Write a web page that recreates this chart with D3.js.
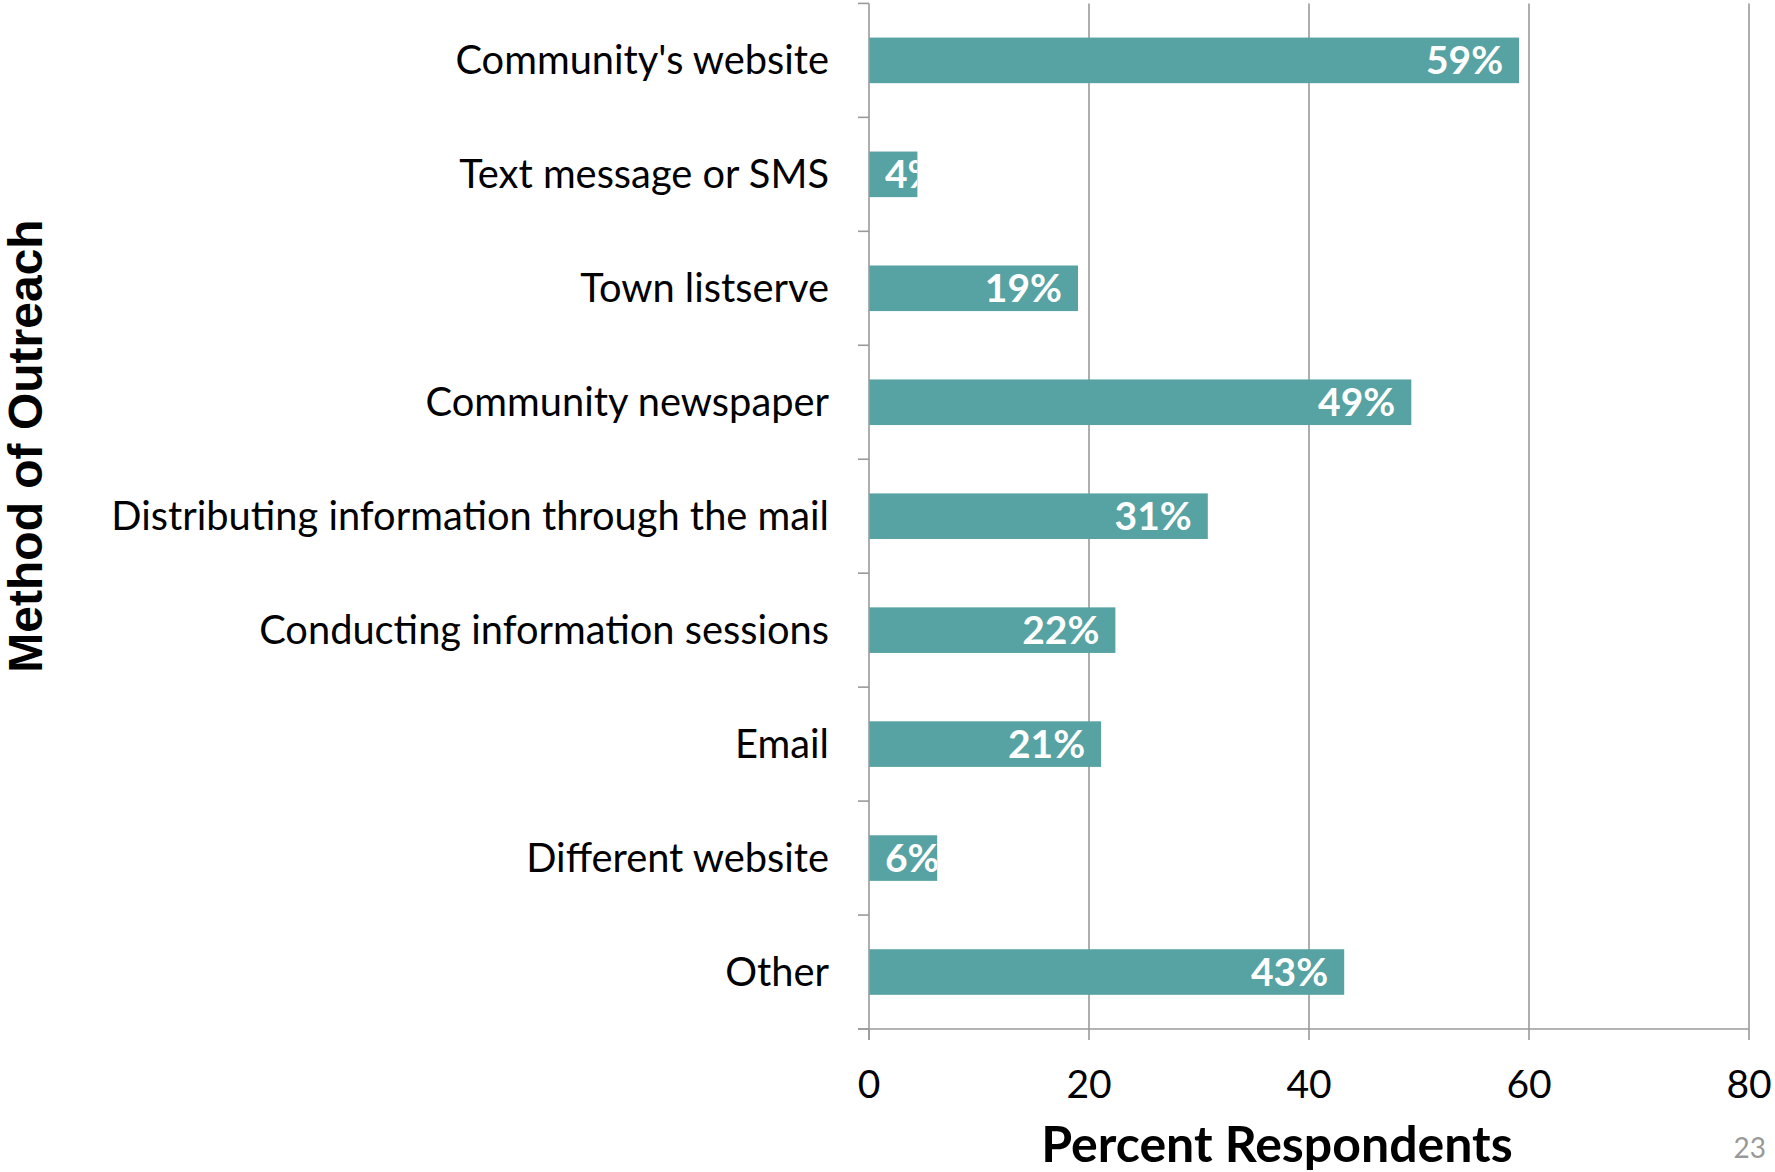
<!DOCTYPE html>
<html>
<head>
<meta charset="utf-8">
<script src="https://cdn.jsdelivr.net/npm/d3@7"></script>
<style>
  html, body { margin: 0; padding: 0; background: #fff; }
  svg { display: block; }
</style>
</head>
<body>
<svg id="chart" width="1775" height="1172"></svg>
<script>
// ---- data ----
const categories = [
  "Community's website",
  "Text message or SMS",
  "Town listserve",
  "Community newspaper",
  "Distributing information through the mail",
  "Conducting information sessions",
  "Email",
  "Different website",
  "Other"
];
const values = [59.1, 4.4, 19.0, 49.3, 30.8, 22.4, 21.1, 6.2, 43.2];
const xTicks = [0, 20, 40, 60, 80];
const xTitle = "Percent Respondents";
const yTitle = "Method of Outreach";
const pageNumber = "23";

(function () {
// ---- layout ----
const svg = d3.select("#chart");
const plotL = 869, plotR = 1749, plotT = 3.4, plotB = 1029;
const barColor = "#57A2A2";
const gridColor = "#9a9a9a";
const font = "Lato, 'Noto Sans', sans-serif";

const x = d3.scaleLinear().domain([0, 80]).range([plotL, plotR]);
const y = d3.scaleBand().domain(categories).range([plotT, plotB])
  .paddingInner(0.6).paddingOuter(0.3);
const boundary = d3.scaleLinear().domain([0, categories.length]).range([plotT, plotB]);

// gridlines
svg.append("g").selectAll("line").data(xTicks.filter(d => d > 0)).join("line")
  .attr("x1", d => x(d)).attr("x2", d => x(d))
  .attr("y1", plotT).attr("y2", plotB)
  .attr("stroke", gridColor).attr("stroke-width", 1.6);

// bars
const defs = svg.append("defs");
categories.forEach((c, i) => {
  defs.append("clipPath").attr("id", "clip" + i).append("rect")
    .attr("x", x(0)).attr("y", y(c))
    .attr("width", x(values[i]) - x(0)).attr("height", y.bandwidth());
});
svg.append("g").selectAll("rect").data(categories).join("rect")
  .attr("x", x(0)).attr("y", d => y(d))
  .attr("width", (d, i) => x(values[i]) - x(0))
  .attr("height", y.bandwidth())
  .attr("fill", barColor);

// bar labels
const pad = 16;
const lbl = svg.append("g").selectAll("text").data(categories).join("text")
  .attr("clip-path", (d, i) => `url(#clip${i})`)
  .attr("y", d => y(d) + y.bandwidth() / 2)
  .attr("dy", "0.36em")
  .attr("fill", "#fff")
  .attr("font-family", font)
  .attr("font-weight", "bold")
  .attr("font-size", 39)
  .text((d, i) => Math.round(values[i]) + "%");
lbl.each(function(d, i) {
  const w = this.getComputedTextLength();
  const bw = x(values[i]) - x(0);
  if (w + 2 * pad <= bw) {
    d3.select(this).attr("x", x(values[i]) - pad).attr("text-anchor", "end");
  } else {
    d3.select(this).attr("x", x(0) + pad).attr("text-anchor", "start");
  }
});

// y axis line and ticks
svg.append("line").attr("x1", plotL).attr("x2", plotL)
  .attr("y1", plotT).attr("y2", plotB + 11)
  .attr("stroke", gridColor).attr("stroke-width", 1.6);
svg.append("g").selectAll("line").data(d3.range(categories.length + 1)).join("line")
  .attr("x1", plotL - 11).attr("x2", plotL)
  .attr("y1", d => boundary(d)).attr("y2", d => boundary(d))
  .attr("stroke", gridColor).attr("stroke-width", 1.6);

// category labels
svg.append("g").selectAll("text").data(categories).join("text")
  .attr("x", plotL - 40)
  .attr("y", d => y(d) + y.bandwidth() / 2)
  .attr("dy", "0.35em")
  .attr("text-anchor", "end")
  .attr("font-family", font)
  .attr("font-size", 39.8)
  .attr("fill", "#000")
  .text(d => d);

// x axis
svg.append("line").attr("x1", plotL - 11).attr("x2", plotR)
  .attr("y1", plotB).attr("y2", plotB)
  .attr("stroke", gridColor).attr("stroke-width", 1.6);
svg.append("g").selectAll("line").data(xTicks).join("line")
  .attr("x1", d => x(d)).attr("x2", d => x(d))
  .attr("y1", plotB).attr("y2", plotB + 11)
  .attr("stroke", gridColor).attr("stroke-width", 1.6);
svg.append("g").selectAll("text").data(xTicks).join("text")
  .attr("x", d => x(d)).attr("y", 1084)
  .attr("dy", "0.35em")
  .attr("text-anchor", "middle")
  .attr("font-family", font)
  .attr("font-size", 39)
  .attr("fill", "#000")
  .text(d => d);

// axis titles
svg.append("text")
  .attr("x", 1277).attr("y", 1162)
  .attr("text-anchor", "middle")
  .attr("font-family", font)
  .attr("font-weight", "bold")
  .attr("font-size", 50)
  .attr("fill", "#000")
  .text(xTitle);
svg.append("text")
  .attr("transform", "translate(42,446) rotate(-90)")
  .attr("text-anchor", "middle")
  .attr("font-family", "'Liberation Sans', Arial, sans-serif")
  .attr("font-weight", "bold")
  .attr("font-size", 48)
  .attr("fill", "#000")
  .text(yTitle);

// page number
svg.append("text")
  .attr("x", 1766).attr("y", 1158)
  .attr("text-anchor", "end")
  .attr("font-family", font)
  .attr("font-size", 28)
  .attr("fill", "#999")
  .text(pageNumber);
})();
</script>
</body>
</html>
